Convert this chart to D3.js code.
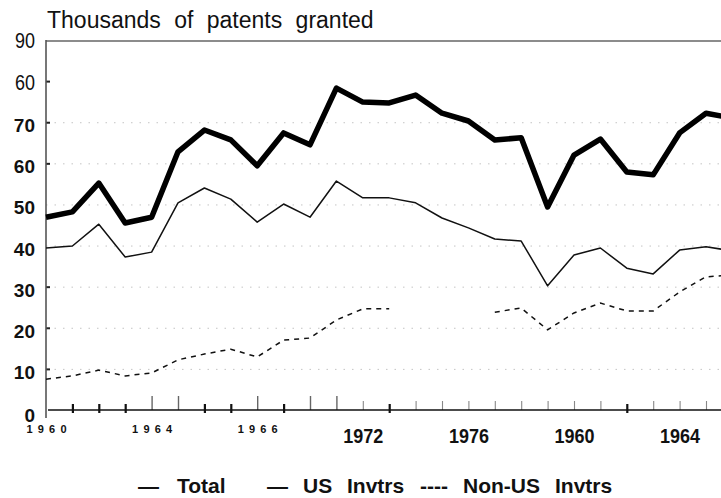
<!DOCTYPE html>
<html>
<head>
<meta charset="utf-8">
<script src="https://cdn.jsdelivr.net/npm/d3@7"></script>
<style>
  html, body { margin: 0; padding: 0; background: #fff; overflow: hidden; }
  svg { display: block; }
</style>
</head>
<body>
<svg id="chart" width="721" height="498"></svg>
<script>
// ---- data ----
const years = [1960,1961,1962,1963,1964,1965,1966,1967,1968,1969,1970,1971,1972,1973,
               1974,1975,1976,1977,1978,1979,1980,1981,1982,1983,1984,1985,1986];
const total = [46.9,48.2,55.2,45.5,46.9,62.8,68.1,65.7,59.4,67.4,64.5,78.3,74.9,74.7,
               76.6,72.2,70.3,65.7,66.2,49.4,62.0,65.9,57.9,57.2,67.4,72.2,71.0];
const usInvtrs = [39.4,39.9,45.2,37.2,38.4,50.4,54.0,51.3,45.7,50.1,46.9,55.7,51.6,51.6,
                  50.4,46.7,44.3,41.6,41.1,30.2,37.7,39.4,34.5,33.1,38.9,39.7,38.7];
const nonUsInvtrs = [7.5,8.3,9.7,8.3,9.0,12.2,13.6,14.8,12.9,17.0,17.5,21.9,24.6,24.6,
                     null,null,null,23.8,24.8,19.5,23.6,26.0,24.1,24.1,28.7,32.4,32.8];
const yTickValues = [0,10,20,30,40,50,60,70,80,90];
const yTickLabels = ["0","10","20","30","40","50","60","70","60","90"];
const xLabelYears = [1960,1964,1968,1972,1976,1980,1984];
const xTickLabels = ["1960","1964","1966","1972","1976","1960","1964"];
const title = "Thousands of patents granted";
const legendItems = [
  {marker: "\u2014", label: ["Total"]},
  {marker: "\u2014", label: ["US", "Invtrs"]},
  {marker: "----", label: ["Non-US", "Invtrs"]}
];

// ---- layout ----
const svg = d3.select("#chart");
const x = d3.scaleLinear().domain([1960, 1985]).range([46, 706]);
const y = d3.scaleLinear().domain([0, 90]).range([410, 40]);
const FONT = "'Liberation Sans', Arial, Helvetica, sans-serif";

// title
svg.append("text")
  .attr("x", 47).attr("y", 28)
  .attr("font-family", FONT).attr("font-size", 23)
  .attr("word-spacing", 7)
  .attr("fill", "#111")
  .text(title);

// gridlines (faint dotted)
const grid = svg.append("g").attr("transform", "translate(46,0)")
  .call(d3.axisLeft(y).tickValues([10,20,30,40,50,60,70]).tickSize(-675).tickFormat(""));
grid.select(".domain").remove();
grid.selectAll("line").attr("stroke", "#c4c4c4").attr("stroke-width", 1)
  .attr("stroke-dasharray", "1.5,7");

// top frame line
svg.append("line").attr("x1", 46).attr("x2", 721).attr("y1", 41).attr("y2", 41)
  .attr("stroke", "#666").attr("stroke-width", 1.5);

// y axis
const yAxis = svg.append("g").attr("transform", "translate(46,0)")
  .call(d3.axisLeft(y).tickValues(yTickValues)
        .tickFormat((d, i) => yTickLabels[i])
        .tickSizeInner(-4).tickSizeOuter(0).tickPadding(11));
yAxis.select(".domain").remove();
yAxis.append("line").attr("x1", 0).attr("x2", 0).attr("y1", 40).attr("y2", 418)
  .attr("stroke", "#555").attr("stroke-width", 1.6);
yAxis.selectAll(".tick line")
  .attr("stroke", "#222").attr("stroke-width", 2)
  .attr("display", d => (d === 0 || d === 90 || d === 40 || d === 50) ? "none" : null);
yAxis.selectAll(".tick text")
  .attr("fill", "#111")
  .attr("font-family", FONT)
  .each(function(d) {
    const t = d3.select(this);
    if (d >= 80) {
      t.attr("font-size", 22).attr("font-weight", "normal")
       .attr("textLength", 20).attr("lengthAdjust", "spacingAndGlyphs")
       .attr("dy", "0.36em").attr("x", -11);
    } else {
      t.attr("font-size", 19).attr("font-weight", "bold")
       .attr("dy", d === 0 ? "0.58em" : "0.5em").attr("x", -11);
    }
  });

// x axis ticks (upward, mixed styles as in the scan)
const boldTicks = [1961,1962,1963,1966,1967,1969,1973,1982];
const tallTicks = [1964,1965,1968,1970,1971];
const xAxis = svg.append("g").attr("transform", "translate(0,410)")
  .call(d3.axisBottom(x).tickValues(years.slice(1, 26)).tickSizeInner(-9).tickSizeOuter(0).tickFormat(""));
xAxis.select(".domain").remove();
xAxis.selectAll(".tick line").each(function(d) {
  const l = d3.select(this);
  if (boldTicks.includes(d)) {
    l.attr("y1", 3).attr("y2", -6).attr("stroke", "#111").attr("stroke-width", 2.2);
  } else if (tallTicks.includes(d)) {
    l.attr("y2", -14).attr("stroke", "#666").attr("stroke-width", 1.4);
  } else {
    l.attr("y2", -9).attr("stroke", "#888").attr("stroke-width", 1.1);
  }
});
svg.append("line").attr("x1", 48).attr("x2", 721).attr("y1", 410).attr("y2", 410)
  .attr("stroke", "#111").attr("stroke-width", 1.6);

// x labels
const xLab = svg.append("g").attr("transform", "translate(0,410)")
  .call(d3.axisBottom(x).tickValues(xLabelYears).tickSize(0)
        .tickFormat((d, i) => xTickLabels[i]));
xLab.select(".domain").remove();
xLab.selectAll(".tick text")
  .attr("fill", "#111").attr("font-family", FONT)
  .each(function(d, i) {
    const t = d3.select(this);
    if (i < 3) {
      t.attr("font-size", 11).attr("font-weight", "bold")
       .attr("textLength", 40).attr("lengthAdjust", "spacing")
       .attr("text-anchor", "start")
       .attr("x", -20).attr("y", 23).attr("dy", 0);
    } else {
      t.attr("font-size", 20).attr("font-weight", "bold")
       .attr("textLength", 40).attr("lengthAdjust", "spacingAndGlyphs")
       .attr("y", 33).attr("dy", 0);
    }
  });

// series lines
const lineGen = d3.line()
  .defined(d => d[1] !== null)
  .x(d => x(d[0])).y(d => y(d[1]));

svg.append("path")
  .datum(years.map((yr, i) => [yr, nonUsInvtrs[i]]))
  .attr("fill", "none").attr("stroke", "#111").attr("stroke-width", 1.5)
  .attr("stroke-dasharray", "5,5")
  .attr("d", lineGen);

svg.append("path")
  .datum(years.map((yr, i) => [yr, usInvtrs[i]]))
  .attr("fill", "none").attr("stroke", "#111").attr("stroke-width", 1.5)
  .attr("stroke-linejoin", "round")
  .attr("d", lineGen);

svg.append("path")
  .datum(years.map((yr, i) => [yr, total[i]]))
  .attr("fill", "none").attr("stroke", "#000").attr("stroke-width", 5.5)
  .attr("stroke-linejoin", "round")
  .attr("d", lineGen);

// legend
const legendPos = [
  {mx: 138, lx: [177]},
  {mx: 267, lx: [303, 347]},
  {mx: 420, lx: [463, 555]}
];
const lg = svg.append("g").attr("font-family", FONT).attr("font-weight", "bold")
  .attr("font-size", 21).attr("fill", "#111");
legendItems.forEach((item, i) => {
  const p = legendPos[i];
  lg.append("text").attr("x", p.mx).attr("y", 493).text(item.marker);
  item.label.forEach((w, j) => {
    lg.append("text").attr("x", p.lx[j]).attr("y", 493).text(w);
  });
});
</script>
</body>
</html>
